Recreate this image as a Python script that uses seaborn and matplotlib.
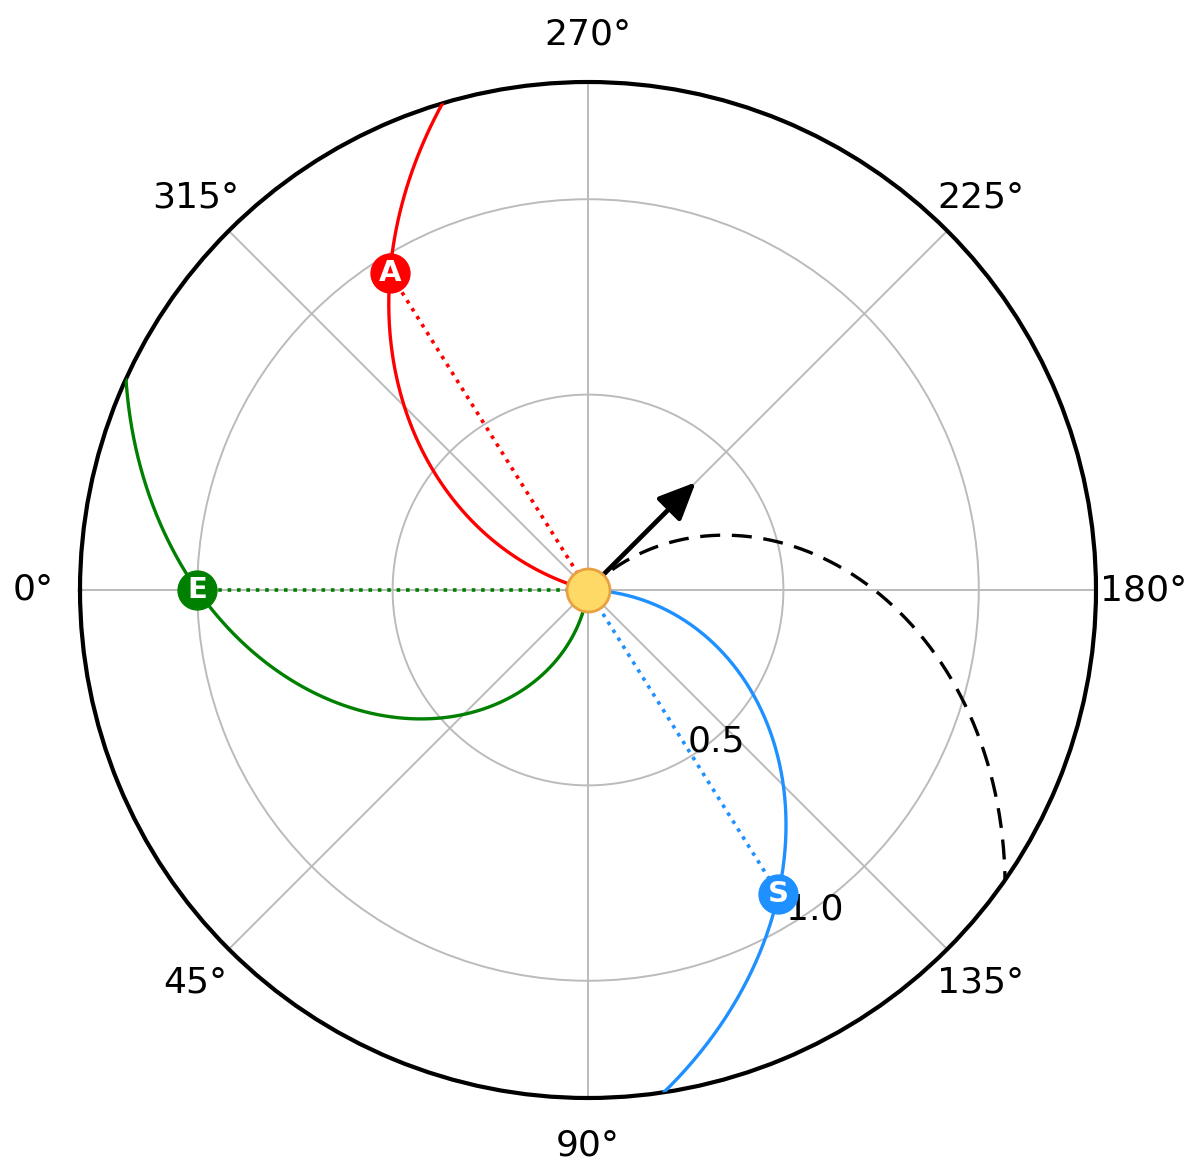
import numpy as np
import pandas as pd
import matplotlib
matplotlib.use('Agg')
import matplotlib.pyplot as plt
import seaborn as sns

# bodies: Parker-spiral footpoints
body_names = ['A', 'E', 'S']
body_lon_deg = [302.0, 0.0, 122.1]
body_r_au = [0.956, 1.0, 0.917]
body_wind_kms = [550, 300, 400]
body_colors = ['red', 'green', 'dodgerblue']

# flare / source direction with its own spiral (dashed)
flare_lon_deg = 225.0
flare_wind_kms = 400
arrow_r = [0.04, 0.39]

r_ticks = [0.5, 1.0]
r_tick_labels = ['0.5', '1.0']
r_max = 1.3

# solar rotation (rad/s) times 1 AU (km)
omega_au = 2 * np.pi / (25.38 * 86400) * 1.496e8

sns.set_theme(style='white')
plt.rcParams['font.family'] = ['DejaVu Sans']

fig = plt.figure(figsize=(12, 11.64), dpi=100)
ax = fig.add_axes([80 / 1200, 66 / 1164, 1016 / 1200, 1016 / 1164], projection='polar')
ax.set_theta_zero_location('W')
ax.set_theta_direction(1)

r_line = np.linspace(0, r_max, 300)


def spiral(lon_deg, r0, v):
    # field line through (lon, r0) for wind speed v
    return np.deg2rad(lon_deg) + omega_au / v * (r0 - r_line)


for name, lon, r0, v, c in zip(body_names, body_lon_deg, body_r_au, body_wind_kms, body_colors):
    df = pd.DataFrame({'theta': spiral(lon, r0, v), 'r': r_line})
    sns.lineplot(data=df, x='theta', y='r', ax=ax, sort=False, estimator=None,
                 color=c, lw=2.4, zorder=3)
    ax.plot([np.deg2rad(lon)] * 2, [0, r0], ls=(0, (1, 1.6)), color=c, lw=2.6, zorder=3)
    ax.plot(np.deg2rad(lon), r0, 'o', ms=28, color=c, zorder=6)
    ax.text(np.deg2rad(lon), r0, name, color='white', fontweight='bold', fontsize=21,
            ha='center', va='center', zorder=7)

df_f = pd.DataFrame({'theta': spiral(flare_lon_deg, 0.0, flare_wind_kms), 'r': r_line})
sns.lineplot(data=df_f, x='theta', y='r', ax=ax, sort=False, estimator=None,
             color='black', lw=2.4, zorder=3)
ax.lines[-1].set_dashes([6, 3.5])

ax.annotate('', xy=(np.deg2rad(flare_lon_deg), arrow_r[1]),
            xytext=(np.deg2rad(flare_lon_deg), arrow_r[0]),
            arrowprops=dict(arrowstyle='-|>,head_length=1.9,head_width=0.85', color='black',
                            lw=3.4, shrinkA=0, shrinkB=0), zorder=5)

# the Sun
ax.plot(0, 0, 'o', ms=31, markerfacecolor='#FFD966', markeredgecolor='#E8A040',
        markeredgewidth=2, zorder=8, clip_on=False)

ax.set_rlim(0, r_max)
ax.set_rticks(r_ticks)
ax.set_yticklabels(r_tick_labels)
ax.set_rlabel_position(120.5)
ax.set_thetagrids(np.arange(0, 360, 45))
ax.tick_params(axis='x', labelsize=26, pad=21, labelcolor='black')
ax.tick_params(axis='y', labelsize=26, labelcolor='black')
ax.grid(True, color='#bbbbbb', lw=1.4)
ax.spines['polar'].set_linewidth(3)
ax.spines['polar'].set_color('black')
ax.set_xlabel('')
ax.set_ylabel('')

fig.savefig('out.png', dpi=100)
